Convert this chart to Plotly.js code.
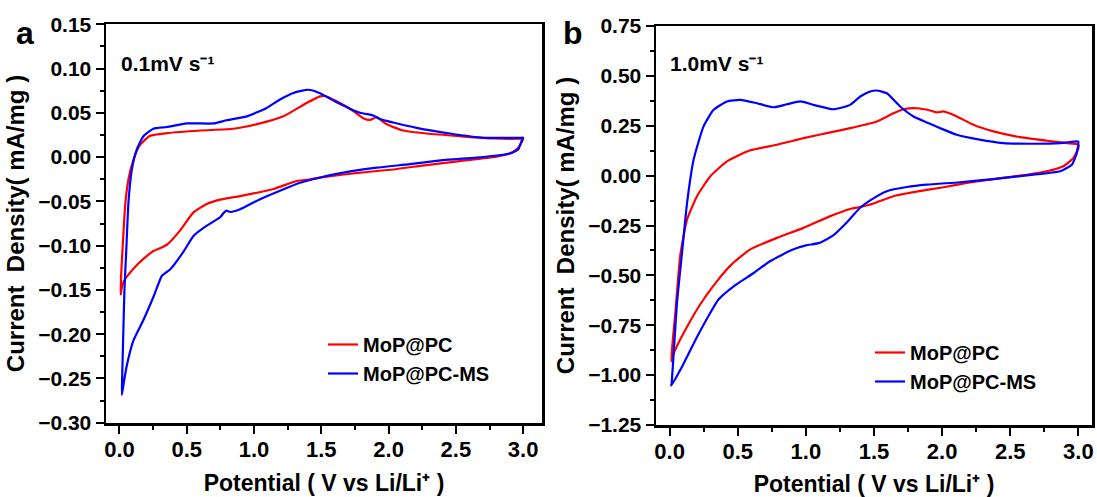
<!DOCTYPE html>
<html>
<head>
<meta charset="utf-8">
<script src="https://cdn.plot.ly/plotly-3.0.1.min.js"></script>
<style>html,body{margin:0;padding:0;background:#fff;}#chart{width:1097px;height:497px;}</style>
</head>
<body>
<div id="chart"></div>
<script>
// Panel a: 0.1 mV s-1
const seriesNames = ["MoP@PC", "MoP@PC-MS"];
const panelLabels = ["a", "b"];
const scanRateLabels = ["0.1mV s\u207B\u00B9", "1.0mV s\u207B\u00B9"];
const xTitle = "Potential ( V vs Li/Li\u207A )";
const yTitle = "Current  Density( mA/mg )";

const potA_PC = [3.00,2.99,2.96,2.90,2.80,2.53,2.28,2.035,1.79,1.54,1.42,1.317,1.144,0.896,0.748,0.649,0.55,0.45,0.352,0.30,0.252,0.178,0.104,0.05,0.025,0.012,
  0.01,0.012,0.03,0.042,0.067,0.104,0.154,0.228,0.352,0.6,0.847,1.045,1.218,1.39,1.49,1.53,1.614,1.738,1.812,1.862,1.911,1.986,2.109,2.283,2.53,2.777,2.975,3.0];
const curA_PC = [0.021,0.017,0.010,0.004,0.0004,-0.0045,-0.009,-0.014,-0.0175,-0.022,-0.025,-0.027,-0.036,-0.044,-0.048,-0.053,-0.0625,-0.083,-0.099,-0.103,-0.106,-0.115,-0.126,-0.136,-0.143,-0.152,
  -0.155,-0.135,-0.085,-0.055,-0.025,-0.003,0.014,0.024,0.027,0.030,0.032,0.038,0.046,0.061,0.0685,0.069,0.063,0.052,0.044,0.042,0.045,0.037,0.030,0.0266,0.0236,0.021,0.0207,0.021];

const potA_MS = [3.0,2.99,2.963,2.90,2.654,2.406,2.159,1.911,1.663,1.49,1.342,1.193,1.045,0.896,0.822,0.795,0.775,0.748,0.649,0.55,0.475,0.376,0.34,0.315,0.252,0.178,0.104,0.055,0.035,0.018,
  0.02,0.025,0.037,0.05,0.067,0.092,0.129,0.178,0.252,0.352,0.5,0.698,0.797,0.946,1.094,1.193,1.292,1.39,1.43,1.49,1.614,1.787,1.86,1.886,1.936,2.035,2.208,2.456,2.703,2.975,3.0];
const curA_MS = [0.0218,0.019,0.0087,0.004,-0.0007,-0.0034,-0.008,-0.012,-0.0175,-0.023,-0.029,-0.038,-0.0475,-0.059,-0.062,-0.0605,-0.063,-0.068,-0.0775,-0.089,-0.107,-0.127,-0.131,-0.134,-0.158,-0.184,-0.207,-0.235,-0.252,-0.2685,
  -0.25,-0.22,-0.15,-0.107,-0.051,-0.014,0.0087,0.0236,0.032,0.034,0.038,0.038,0.0416,0.046,0.0555,0.065,0.0724,0.076,0.0755,0.072,0.062,0.050,0.048,0.047,0.043,0.039,0.033,0.0266,0.0218,0.0218,0.0218];

// Panel b: 1.0 mV s-1
const potB_PC = [3.0,3.0,2.963,2.89,2.768,2.572,2.377,2.181,2.01,1.79,1.643,1.521,1.472,1.399,1.325,1.179,0.983,0.788,0.592,0.455,0.335,0.225,0.11,0.05,0.015,
  0.012,0.02,0.042,0.078,0.128,0.201,0.299,0.421,0.592,0.788,0.983,1.179,1.325,1.43,1.521,1.643,1.717,1.815,1.912,1.961,2.01,2.108,2.23,2.377,2.572,2.768,2.915,3.0];
const curB_PC = [0.155,0.138,0.088,0.047,0.022,0.0,-0.017,-0.037,-0.058,-0.083,-0.103,-0.133,-0.145,-0.157,-0.167,-0.203,-0.262,-0.312,-0.37,-0.445,-0.54,-0.645,-0.78,-0.86,-0.92,
  -0.93,-0.85,-0.687,-0.4,-0.22,-0.103,-0.003,0.0717,0.127,0.155,0.188,0.217,0.238,0.255,0.272,0.313,0.333,0.338,0.327,0.317,0.322,0.297,0.255,0.222,0.193,0.175,0.163,0.155];

const potB_MS = [3.0,2.988,2.952,2.866,2.67,2.377,2.132,1.888,1.741,1.594,1.472,1.4,1.3,1.2,1.1,1.0,0.9,0.739,0.62,0.48,0.36,0.28,0.2,0.09,0.012,
  0.015,0.03,0.054,0.091,0.128,0.176,0.249,0.323,0.421,0.519,0.641,0.763,0.861,0.959,1.056,1.203,1.325,1.399,1.472,1.521,1.594,1.692,1.79,1.888,1.986,2.108,2.255,2.45,2.67,2.866,2.988,3.0];
const curB_MS = [0.17,0.113,0.055,0.022,0.005,-0.017,-0.033,-0.045,-0.057,-0.078,-0.124,-0.16,-0.235,-0.3,-0.337,-0.35,-0.372,-0.428,-0.487,-0.55,-0.62,-0.71,-0.81,-0.96,-1.053,
  -1.04,-0.887,-0.637,-0.387,-0.137,0.08,0.247,0.33,0.372,0.38,0.363,0.343,0.358,0.372,0.355,0.333,0.355,0.397,0.422,0.427,0.413,0.347,0.297,0.267,0.238,0.205,0.183,0.163,0.16,0.163,0.172,0.17];

const colors = ["#ff0000", "#0000ff"];
const FONT = "Liberation Sans, Arial, sans-serif";

function trace(x, y, i, xa, ya, leg) {
  return {x: x, y: y, type: "scatter", mode: "lines", name: seriesNames[i],
    xaxis: xa, yaxis: ya, legend: leg,
    line: {color: colors[i], width: 2.2, shape: "spline", smoothing: 0.5}, hoverinfo: "skip"};
}

const data = [
  trace(potA_PC, curA_PC, 0, "x", "y", "legend"),
  trace(potA_MS, curA_MS, 1, "x", "y", "legend"),
  trace(potB_PC, curB_PC, 0, "x2", "y2", "legend2"),
  trace(potB_MS, curB_MS, 1, "x2", "y2", "legend2")
];

function xAxis(domain, range, anchor) {
  return {domain: domain, range: range, anchor: anchor, tick0: 0, dtick: 0.5, tickformat: ".1f",
    ticks: "outside", ticklen: 8, tickwidth: 2, tickcolor: "#000", ticklabelstandoff: -3,
    showline: true, linewidth: 2.5, linecolor: "#000", mirror: true,
    showgrid: false, zeroline: false,
    minor: {dtick: 0.25, ticks: "outside", ticklen: 4, tickwidth: 2, tickcolor: "#000", showgrid: false},
    tickfont: {family: FONT, size: 22, color: "#000", weight: "bold"},
    title: {text: xTitle, standoff: 14,
      font: {family: FONT, size: 23, color: "#000", weight: "bold"}}};
}
function yAxis(domain, range, dtick, minorDtick, anchor) {
  return {domain: domain, range: range, anchor: anchor, tick0: 0, dtick: dtick, tickformat: ".2f",
    ticks: "outside", ticklen: 8, tickwidth: 2, tickcolor: "#000",
    showline: true, linewidth: 2.5, linecolor: "#000", mirror: true,
    showgrid: false, zeroline: false,
    minor: {dtick: minorDtick, ticks: "outside", ticklen: 4, tickwidth: 2, tickcolor: "#000", showgrid: false},
    tickfont: {family: FONT, size: 21, color: "#000", weight: "bold"},
    title: {text: yTitle, standoff: 7,
      font: {family: FONT, size: 24, color: "#000", weight: "bold"}}};
}

const W = 1097, H = 497;
const layout = {
  width: W, height: H,
  margin: {l: 0, r: 0, t: 0, b: 0},
  paper_bgcolor: "#fff", plot_bgcolor: "#fff",
  showlegend: true,
  xaxis: xAxis([106 / W, 542 / W], [-0.1, 3.14], "y"),
  yaxis: yAxis([(H - 423) / H, (H - 24) / H], [-0.3003, 0.1503], 0.05, 0.025, "x"),
  xaxis2: xAxis([656 / W, 1092 / W], [-0.1, 3.1], "y2"),
  yaxis2: yAxis([(H - 425) / H, (H - 26) / H], [-1.2505, 0.7505], 0.25, 0.125, "x2"),
  legend: {x: 323 / W, y: (H - 325) / H, xanchor: "left", yanchor: "top", bgcolor: "rgba(0,0,0,0)",
    font: {family: FONT, size: 20, color: "#000", weight: "bold"}},
  legend2: {x: 870 / W, y: (H - 333) / H, xanchor: "left", yanchor: "top", bgcolor: "rgba(0,0,0,0)",
    font: {family: FONT, size: 20, color: "#000", weight: "bold"}},
  annotations: [
    {text: panelLabels[0], xref: "paper", yref: "paper", x: 25 / W, y: (H - 33) / H, xanchor: "center", yanchor: "middle",
      showarrow: false, font: {family: FONT, size: 32, color: "#000", weight: "bold"}},
    {text: panelLabels[1], xref: "paper", yref: "paper", x: 573 / W, y: (H - 33) / H, xanchor: "center", yanchor: "middle",
      showarrow: false, font: {family: FONT, size: 32, color: "#000", weight: "bold"}},
    {text: scanRateLabels[0], xref: "paper", yref: "paper", x: 119 / W, y: (H - 63) / H, xanchor: "left", yanchor: "middle",
      showarrow: false, font: {family: FONT, size: 21, color: "#000", weight: "bold"}},
    {text: scanRateLabels[1], xref: "paper", yref: "paper", x: 668 / W, y: (H - 63) / H, xanchor: "left", yanchor: "middle",
      showarrow: false, font: {family: FONT, size: 21, color: "#000", weight: "bold"}}
  ]
};

Plotly.newPlot("chart", data, layout, {staticPlot: true, displayModeBar: false});
</script>
</body>
</html>
